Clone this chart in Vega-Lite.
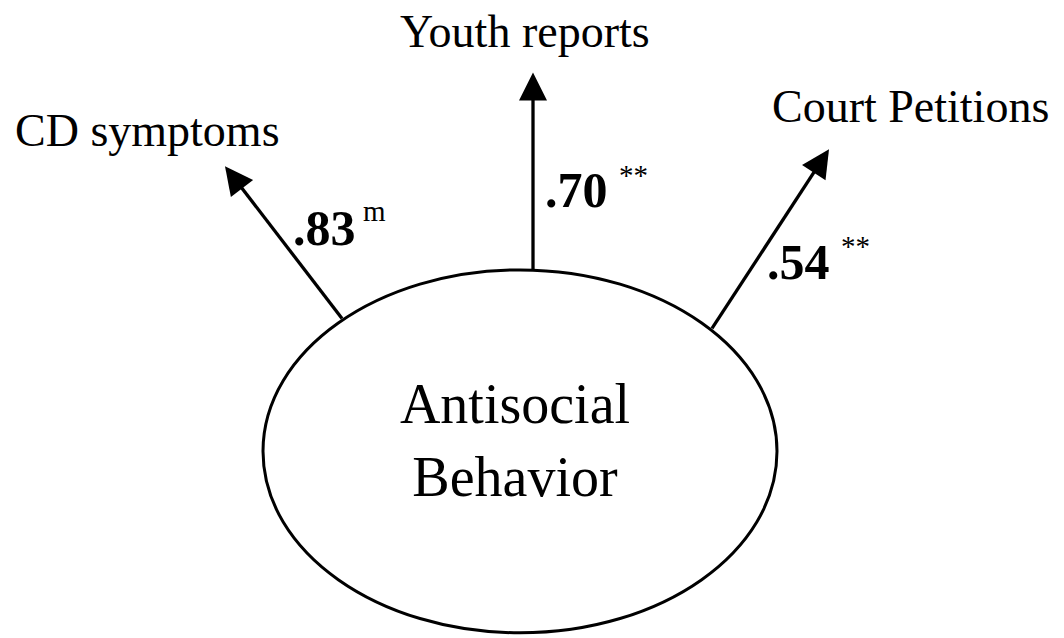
{
  "$schema": "https://vega.github.io/schema/vega-lite/v6.json",
  "width": 1064,
  "height": 638,
  "padding": 0,
  "autosize": {"type": "fit", "contains": "padding"},
  "background": "white",
  "config": {"view": {"stroke": null}},
  "datasets": {
    "construct": [{"x": 520, "y": 453.5, "name": "Antisocial Behavior"}],
    "paths": [
      {"indicator": "CD symptoms", "x": 342, "y": 320, "x2": 233.5, "y2": 178},
      {"indicator": "Youth reports", "x": 533, "y": 272, "x2": 533, "y2": 87},
      {"indicator": "Court Petitions", "x": 712, "y": 330, "x2": 821.4, "y2": 161.7}
    ],
    "heads": [
      {"indicator": "CD symptoms", "x": 233.5, "y": 178.1, "direction": 322.6},
      {"indicator": "Youth reports", "x": 533, "y": 87, "direction": 0},
      {"indicator": "Court Petitions", "x": 821.4, "y": 161.7, "direction": 33}
    ],
    "indicators": [
      {"label": "CD symptoms", "x": 15, "y": 147},
      {"label": "Youth reports", "x": 400, "y": 47},
      {"label": "Court Petitions", "x": 772, "y": 123}
    ],
    "constructText": [
      {"label": "Antisocial", "x": 515, "y": 425},
      {"label": "Behavior", "x": 515, "y": 498}
    ],
    "loadings": [
      {"label": ".83", "x": 293, "y": 246},
      {"label": ".70", "x": 545, "y": 208},
      {"label": ".54", "x": 767, "y": 280}
    ],
    "sig": [
      {"label": "m", "x": 363, "y": 222},
      {"label": "**", "x": 619, "y": 186},
      {"label": "**", "x": 841, "y": 257}
    ]
  },
  "encoding": {
    "x": {"field": "x", "type": "quantitative", "scale": {"domain": [0, 1064], "nice": false, "zero": false}, "axis": null},
    "y": {"field": "y", "type": "quantitative", "scale": {"domain": [0, 638], "nice": false, "zero": false, "reverse": true}, "axis": null}
  },
  "layer": [
    {
      "data": {"name": "construct"},
      "mark": {"type": "point", "filled": false, "color": "black", "opacity": 1, "strokeWidth": 3,
               "shape": "M-1,0A1,0.706,0,1,0,1,0A1,0.706,0,1,0,-1,0Z", "size": 264196, "clip": false}
    },
    {
      "data": {"name": "paths"},
      "mark": {"type": "rule", "color": "black", "strokeWidth": 3.3},
      "encoding": {
        "x2": {"field": "x2"},
        "y2": {"field": "y2"}
      }
    },
    {
      "data": {"name": "heads"},
      "mark": {"type": "point", "filled": true, "color": "black", "opacity": 1, "strokeWidth": 0,
               "shape": "M0,-1L1,1L-1,1Z", "size": 784},
      "encoding": {
        "angle": {"field": "direction", "type": "quantitative", "scale": null}
      }
    },
    {
      "data": {"name": "indicators"},
      "mark": {"type": "text", "align": "left", "baseline": "alphabetic", "font": "Liberation Serif", "fontSize": 46, "color": "black"},
      "encoding": {"text": {"field": "label"}}
    },
    {
      "data": {"name": "constructText"},
      "mark": {"type": "text", "align": "center", "baseline": "alphabetic", "font": "Liberation Serif", "fontSize": 56, "color": "black"},
      "encoding": {"text": {"field": "label"}}
    },
    {
      "data": {"name": "loadings"},
      "mark": {"type": "text", "align": "left", "baseline": "alphabetic", "font": "Liberation Serif", "fontSize": 50, "fontWeight": "bold", "color": "black"},
      "encoding": {"text": {"field": "label"}}
    },
    {
      "data": {"name": "sig"},
      "mark": {"type": "text", "align": "left", "baseline": "alphabetic", "font": "Liberation Serif", "fontSize": 29, "color": "black"},
      "encoding": {"text": {"field": "label"}}
    }
  ]
}
